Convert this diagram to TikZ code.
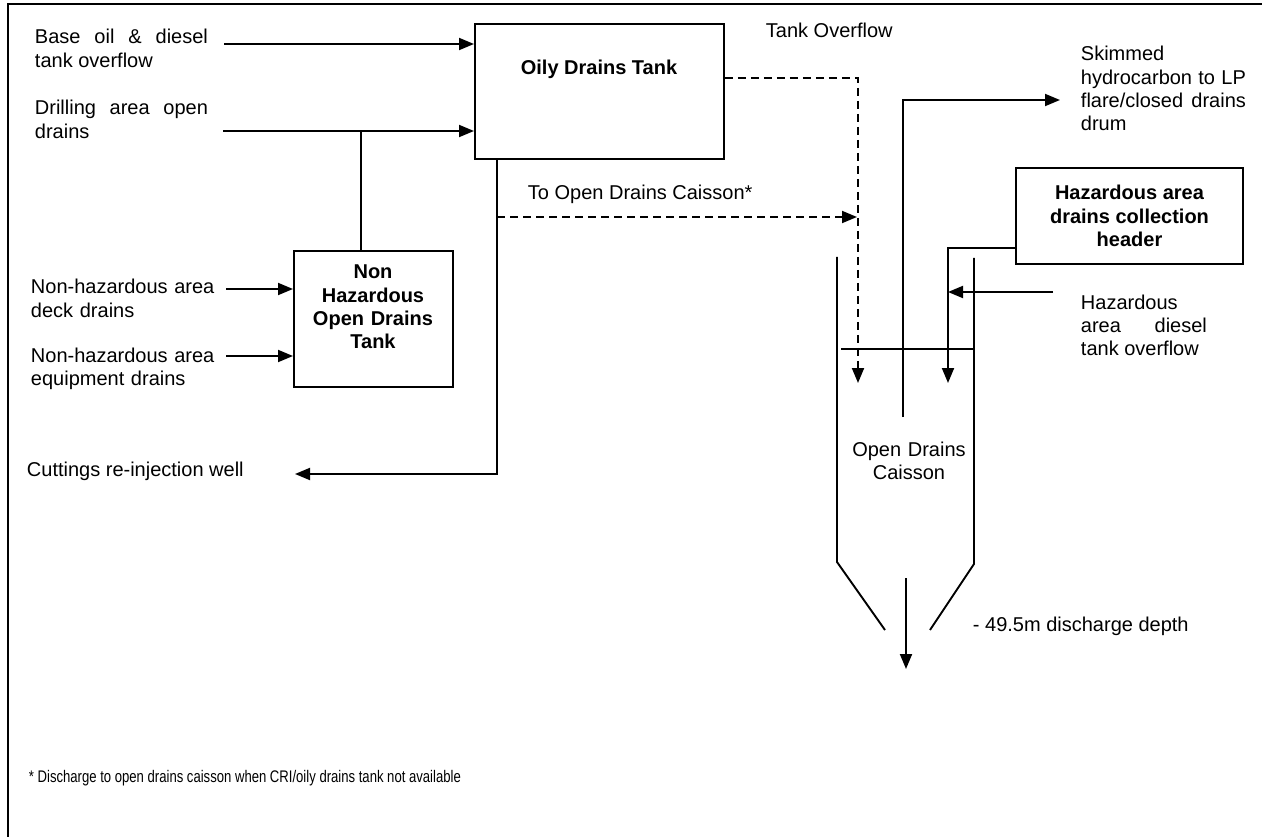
\documentclass[tikz,border=0pt]{standalone}
\usepackage{fontspec}
\setmainfont{Liberation Sans}
\newfontfamily\narrowfont[FakeStretch=0.78]{Liberation Sans}
\usetikzlibrary{arrows.meta}
\begin{document}
\begin{tikzpicture}[x=1pt, y=-1pt, >={Triangle[length=15pt,width=12pt]},
  line width=1.9pt,
  every node/.style={inner sep=0pt, font=\fontsize{20}{23.3}\selectfont},
  tank/.style={draw, rectangle, line width=1.9pt},
  txt/.style={anchor=base west},
  jtxt/.style={anchor=base west, align=justify},
  bold/.style={font=\fontsize{20}{23.3}\selectfont\bfseries, align=center, anchor=base},
  overflow/.style={dashed, dash pattern=on 8pt off 5pt}]
  \useasboundingbox (0,0) rectangle (1262,837);
  \draw (1262,4) -- (8,4) -- (8,837);

  % tanks
  \node[tank, minimum width=249pt, minimum height=135pt, anchor=north west] (odt) at (474,23) {};
  \node[bold] (odtlbl) at (599,75) {Oily Drains Tank};
  \node[tank, minimum width=159pt, minimum height=136pt, anchor=north west] (ndt) at (293,250) {};
  \node[bold, text width=150pt] (ndtlbl) at (373,279) {Non\\Hazardous\\Open Drains\\Tank};
  \node[tank, bold, anchor=center, minimum width=227pt, minimum height=96pt] (hdh) at (1129.5,216)
    {Hazardous area\\drains collection\\header};

  % labels
  \node[jtxt, text width=173pt] (bolbl) at (34,44) {Base oil \& diesel\linebreak tank overflow};
  \node[jtxt, text width=173pt] (drlbl) at (34,115) {Drilling area open\linebreak drains};
  \node[txt, align=left, text width=195pt] (dklbl) at (30,294) {Non-hazardous area\\deck drains};
  \node[txt, align=left, text width=195pt] (eqlbl) at (30,362) {Non-hazardous area\\equipment drains};
  \node[txt] (cwlbl) at (26,476) {Cuttings re-injection well};
  \node[txt] (ovlbl) at (765,38) {Tank Overflow};
  \node[txt] (tclbl) at (527,200) {To Open Drains Caisson*};
  \node[jtxt, text width=165pt] (sklbl) at (1080,61) {Skimmed\linebreak hydrocarbon to LP\linebreak flare/closed drains\linebreak drum};
  \node[jtxt, text width=126pt] (hzlbl) at (1080,309) {Hazardous\linebreak area diesel\linebreak tank overflow};
  \node[anchor=base, align=center, text width=150pt] (oclbl) at (909,456) {Open Drains\\Caisson};
  \node[txt] (dplbl) at (972,631) {- 49.5m discharge depth};
  \node[txt, font=\narrowfont\fontsize{16.8}{18}\selectfont] (note) at (28,782)
    {* Discharge to open drains caisson when CRI/oily drains tank not available};

  % inflows
  \coordinate (bo) at (224,44);
  \coordinate (dr) at (223,131);
  \coordinate (jn) at (361,131);
  \coordinate (dk) at (226,289);
  \coordinate (eq) at (226,356);
  \draw[->] (bo) -- (bo -| odt.west);
  \draw[->] (dr) -- (dr -| odt.west);
  \draw (jn) -- (jn |- ndt.north);
  \draw[->] (dk) -- (dk -| ndt.west);
  \draw[->] (eq) -- (eq -| ndt.west);

  % outflows
  \coordinate (cv) at ([xshift=23pt]odt.south west);
  \coordinate (cw) at (295,474);
  \coordinate (tc) at (857,217);
  \coordinate (ov) at (858,383);
  \draw[->] (cv) |- (cw);
  \draw[->, overflow] (cv |- tc) -- (tc);
  \draw[->, overflow] ([yshift=13.5pt]odt.east) -| (ov);

  % caisson
  \coordinate (sb) at (903,417);
  \coordinate (sk) at (1060,100);
  \coordinate (hb) at (948,383);
  \coordinate (hz) at (1053,292);
  \draw[->] (sb) |- (sk);
  \draw[->] ([yshift=-32pt]hdh.west) -| (hb);
  \draw[->] (hz) -- (hz -| hb);
  \draw (837,257) -- (837,562) -- (885,630);
  \draw (974,258) -- (974,564) -- (930,630);
  \draw (841,349) -- (974,349);
  \draw[->] (906,578) -- (906,669);
\end{tikzpicture}
\end{document}
